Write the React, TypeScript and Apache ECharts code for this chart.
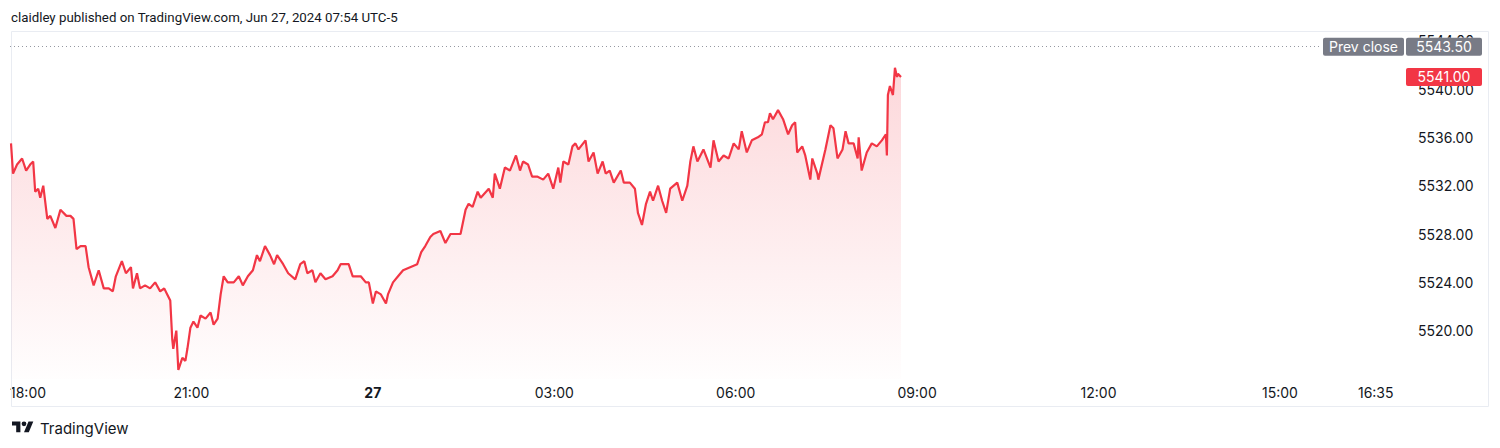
import React, { useEffect, useRef } from "react";
import * as echarts from "echarts";

// minutes after 18:00 (Jun 26, UTC-5)
const minutesFromStart = [
  1, 3, 7, 12, 16, 20, 23, 25, 28, 30, 33, 37, 40, 45, 50, 56, 60, 63, 66, 70, 75, 78, 83, 88, 93, 98,
  102, 105, 111, 115, 120, 122, 126, 129, 134, 139, 144, 149, 153, 156, 159, 161, 162, 165, 167, 171,
  174, 176, 179, 182, 186, 189, 194, 199, 202, 206, 209, 212, 216, 222, 227, 231, 236, 241, 245, 248,
  253, 258, 262, 265, 271, 276, 283, 288, 292, 295, 300, 303, 308, 313, 320, 325, 328, 336, 340, 348,
  353, 356, 360, 363, 368, 373, 375, 380, 385, 390, 397, 404, 408, 412, 417, 420, 427, 432, 437, 442,
  447, 452, 455, 459, 464, 467, 475, 479, 481, 486, 491, 496, 502, 506, 509, 514, 518, 523, 529, 534,
  539, 544, 546, 549, 554, 558, 561, 564, 571, 574, 579, 583, 588, 591, 595, 599, 606, 609, 615, 620,
  623, 627, 631, 635, 638, 643, 647, 651, 655, 662, 667, 672, 675, 678, 682, 688, 695, 698, 703, 708,
  713, 718, 723, 726, 731, 736, 742, 746, 749, 752, 754, 757, 762, 767, 772, 776, 779, 781, 786, 789,
  794, 796, 801, 802, 809, 814, 817, 821, 826, 829, 832, 837, 841, 842, 845, 850, 855, 860, 865, 869,
  870, 871, 873, 876, 878, 880, 881, 884,
];

const prices = [
  5535.5, 5533.0, 5533.75, 5534.25, 5533.25, 5533.75, 5534.0, 5531.5, 5531.75, 5531.0, 5532.0, 5529.25,
  5529.5, 5528.5, 5530.0, 5529.5, 5529.5, 5529.25, 5526.75, 5527.0, 5527.0, 5525.25, 5523.75, 5525.0,
  5523.5, 5523.5, 5523.25, 5524.5, 5525.75, 5524.75, 5525.25, 5523.5, 5524.75, 5523.5, 5523.75, 5523.5,
  5524.0, 5523.25, 5523.5, 5523.0, 5522.5, 5519.25, 5518.5, 5520.0, 5516.75, 5517.75, 5517.5, 5518.5,
  5520.25, 5520.75, 5520.25, 5521.25, 5521.0, 5521.5, 5520.5, 5521.0, 5523.0, 5524.5, 5524.0, 5524.0,
  5524.5, 5523.75, 5524.5, 5525.0, 5526.25, 5525.75, 5527.0, 5526.25, 5525.5, 5526.25, 5525.5, 5524.75,
  5524.25, 5525.5, 5525.75, 5524.75, 5525.0, 5524.0, 5524.75, 5524.25, 5524.5, 5525.0, 5525.5, 5525.5,
  5524.5, 5524.5, 5524.0, 5524.0, 5522.25, 5523.25, 5523.0, 5522.25, 5523.0, 5524.0, 5524.5, 5525.0,
  5525.25, 5525.5, 5526.5, 5527.0, 5527.75, 5528.0, 5528.25, 5527.25, 5528.0, 5528.0, 5528.0, 5530.0,
  5530.5, 5530.25, 5531.5, 5531.0, 5531.75, 5531.0, 5533.0, 5531.75, 5533.5, 5533.25, 5534.5, 5533.25,
  5534.0, 5533.75, 5532.75, 5532.75, 5532.5, 5533.0, 5531.75, 5533.5, 5532.25, 5534.0, 5533.75, 5535.25,
  5535.5, 5535.0, 5535.75, 5534.0, 5534.75, 5533.0, 5534.0, 5533.0, 5533.25, 5532.25, 5533.25, 5532.25,
  5532.25, 5531.75, 5529.75, 5528.75, 5530.5, 5531.5, 5530.75, 5532.0, 5530.75, 5529.75, 5531.75, 5532.25,
  5530.75, 5532.0, 5534.0, 5535.25, 5534.0, 5535.0, 5533.5, 5535.75, 5534.0, 5534.5, 5534.25, 5535.5,
  5535.0, 5536.5, 5534.75, 5535.75, 5536.0, 5536.25, 5537.25, 5537.25, 5538.0, 5537.5, 5538.25, 5537.5,
  5536.25, 5537.0, 5537.25, 5534.75, 5535.25, 5534.5, 5532.5, 5534.25, 5533.0, 5532.5, 5535.0, 5537.0,
  5536.75, 5534.25, 5535.0, 5536.5, 5535.5, 5535.5, 5534.25, 5536.0, 5533.25, 5534.75, 5535.5, 5535.25,
  5535.75, 5536.25, 5534.5, 5539.5, 5540.25, 5539.5, 5541.75, 5541.0, 5541.25, 5541.0,
];

const timeTickMinutes = [0, 180, 360, 540, 720, 900, 1080, 1260, 1355];
const timeTickLabels = ["18:00", "21:00", "27", "03:00", "06:00", "09:00", "12:00", "15:00", "16:35"];
const prevClose = 5543.5;
const headerText = "claidley published on TradingView.com, Jun 27, 2024 07:54 UTC-5";
const footerText = "TradingView";

const FONT = "Inter, Roboto, 'DejaVu Sans', sans-serif";
const HEAD_FONT = "Roboto, Inter, sans-serif";
const TEXT = "#131722";
const RED = "#F23645";
const GRAY_TAG = "#787b86";

echarts.graphic.registerShape(
  "tvlogo",
  echarts.graphic.extendPath(
    "M14 22H7V11H0V4h14v18ZM28 22h-8l7.5-18h8L28 22ZM24 8a4 4 0 1 1-8 0a4 4 0 1 1 8 0Z",
    {}
  ) as any
);

export default function App() {
  const ref = useRef<HTMLDivElement>(null);
  useEffect(() => {
    if (!ref.current) return;
    const chart = echarts.init(ref.current, null, { renderer: "svg" });
    const data = minutesFromStart.map((m, i) => [m, prices[i]]);
    const labelMap: Record<number, string> = {};
    timeTickMinutes.forEach((m, i) => (labelMap[m] = timeTickLabels[i]));
    const lastPrice = prices[prices.length - 1];

    chart.setOption({
      animation: false,
      grid: { left: 10, right: 90, top: 31, bottom: 69, containLabel: false },
      xAxis: {
        type: "value",
        min: 0,
        max: 1389,
        axisLine: { show: false },
        axisTick: { show: false },
        splitLine: { show: false },
        axisLabel: {
          customValues: timeTickMinutes,
          alignMinLabel: "left",
          margin: 6,
          color: TEXT,
          fontSize: 14,
          fontFamily: FONT,
          formatter: (v: number) => {
            const s = labelMap[Math.round(v)] ?? "";
            return s === "27" ? "{b|27}" : s;
          },
          rich: { b: { fontWeight: "bold", fontSize: 14, color: TEXT, fontFamily: FONT } },
        },
      },
      yAxis: {
        type: "value",
        position: "right",
        min: 5516,
        max: 5544.8,
        interval: 4,
        axisLine: { show: false },
        axisTick: { show: false },
        splitLine: { show: false },
        axisLabel: {
          showMinLabel: false,
          showMaxLabel: false,
          margin: 8,
          color: TEXT,
          fontSize: 14,
          fontFamily: FONT,
          formatter: (v: number) => v.toFixed(2),
        },
      },
      series: [
        {
          type: "line",
          data,
          showSymbol: false,
          symbol: "none",
          lineStyle: { color: RED, width: 2.2 },
          itemStyle: { color: RED },
          areaStyle: {
            color: new echarts.graphic.LinearGradient(0, 0, 0, 1, [
              { offset: 0, color: "rgba(242,54,69,0.28)" },
              { offset: 1, color: "rgba(242,54,69,0.01)" },
            ]),
          },
          markLine: {
            silent: true,
            symbol: "none",
            label: { show: false },
            lineStyle: { color: "#9598a1", type: [1, 3], width: 1 },
            data: [{ yAxis: prevClose }],
          },
        },
      ],
    });

    const yPrev = chart.convertToPixel({ yAxisIndex: 0 }, prevClose) as number;
    const yLast = chart.convertToPixel({ yAxisIndex: 0 }, lastPrice) as number;
    const tagH = 18;
    const tagText = (x: number, y: number, text: string) => ({
      type: "text",
      x,
      y,
      z: 30,
      style: {
        text,
        fill: "#ffffff",
        font: `14px ${FONT}`,
        textAlign: "center",
        textVerticalAlign: "middle",
      },
    });

    chart.setOption({
      graphic: [
        {
          type: "rect",
          shape: { x: 11.5, y: 31.5, width: 1477, height: 375 },
          style: { fill: "none", stroke: "#e9ecf2", lineWidth: 1 },
          silent: true,
          z: 1,
        },
        {
          type: "text",
          x: 11,
          y: 17,
          style: { text: headerText, fill: TEXT, font: `13.3px ${HEAD_FONT}`, textVerticalAlign: "middle" },
        },
        {
          type: "tvlogo",
          x: 12,
          y: 419,
          scaleX: 0.6,
          scaleY: 0.6,
          style: { fill: TEXT },
        },
        {
          type: "text",
          x: 40,
          y: 428,
          style: { text: footerText, fill: TEXT, font: `15px ${FONT}`, textVerticalAlign: "middle" },
        },
        {
          type: "rect",
          z: 28,
          shape: { x: 1321, y: yPrev - tagH / 2, width: 164, height: tagH },
          style: { fill: "#ffffff" },
        },
        {
          type: "rect",
          z: 29,
          shape: { x: 1323, y: yPrev - tagH / 2, width: 81, height: tagH, r: 2 },
          style: { fill: GRAY_TAG },
        },
        tagText(1363.5, yPrev, "Prev close"),
        {
          type: "rect",
          z: 29,
          shape: { x: 1406, y: yPrev - tagH / 2, width: 76, height: tagH, r: 2 },
          style: { fill: GRAY_TAG },
        },
        tagText(1444, yPrev, prevClose.toFixed(2)),
        {
          type: "rect",
          z: 29,
          shape: { x: 1406, y: yLast - tagH / 2, width: 76, height: tagH, r: 2 },
          style: { fill: RED },
        },
        tagText(1444, yLast, lastPrice.toFixed(2)),
      ],
    });

    return () => chart.dispose();
  }, []);

  return (
    <div
      ref={ref}
      style={{ position: "fixed", left: 0, top: 0, width: 1500, height: 448, background: "#ffffff" }}
    />
  );
}
